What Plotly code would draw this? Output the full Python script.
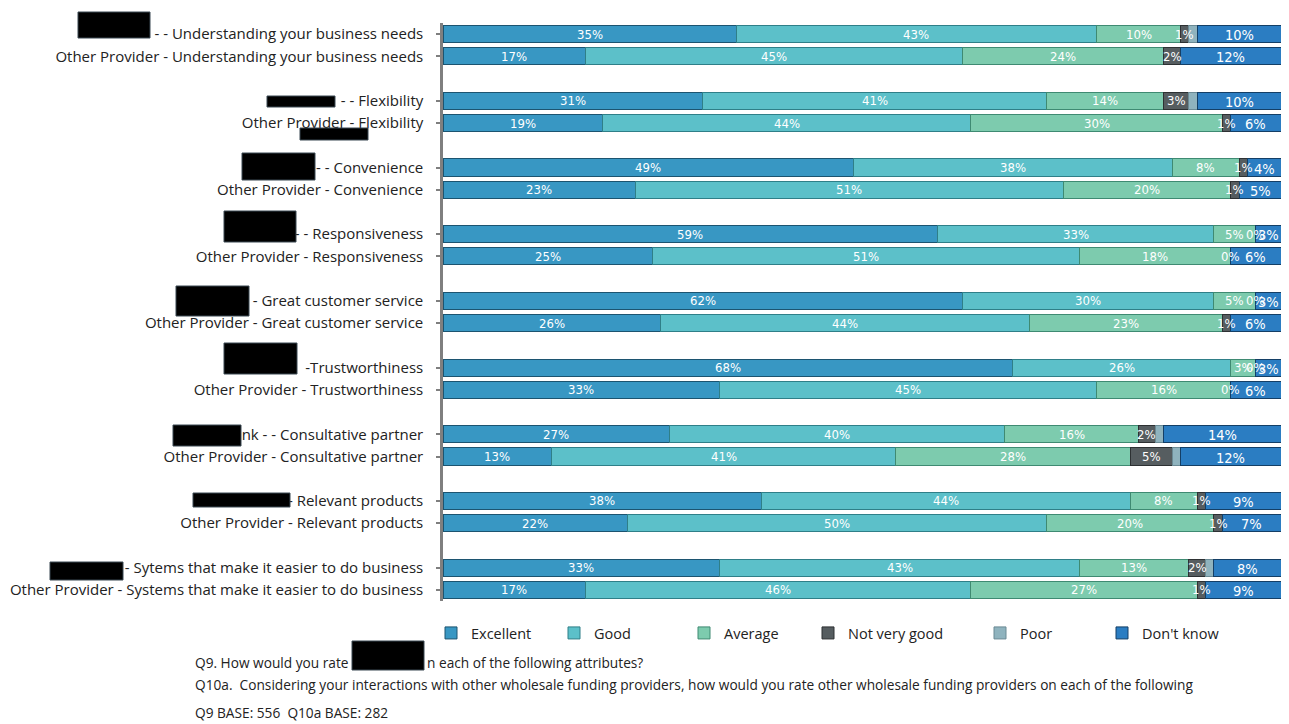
import plotly.graph_objects as go

# ---------------- data ----------------
row_labels = [
    "- - Understanding your business needs",
    "Other Provider - Understanding your business needs",
    "- - Flexibility",
    "Other Provider - Flexibility",
    "- - Convenience",
    "Other Provider - Convenience",
    "- - Responsiveness",
    "Other Provider - Responsiveness",
    "- Great customer service",
    "Other Provider - Great customer service",
    "-Trustworthiness",
    "Other Provider - Trustworthiness",
    "nk - - Consultative partner",
    "Other Provider - Consultative partner",
    "- Relevant products",
    "Other Provider - Relevant products",
    "- Sytems that make it easier to do business",
    "Other Provider - Systems that make it easier to do business",
]

series_names = ["Excellent", "Good", "Average", "Not very good", "Poor", "Don't know"]
excellent     = [35, 17, 31, 19, 49, 23, 59, 25, 62, 26, 68, 33, 27, 13, 38, 22, 33, 17]
good          = [43, 45, 41, 44, 38, 51, 33, 51, 30, 44, 26, 45, 40, 41, 44, 50, 43, 46]
average       = [10, 24, 14, 30, 8, 20, 5, 18, 5, 23, 3, 16, 16, 28, 8, 20, 13, 27]
not_very_good = [1, 2, 3, 1, 1, 1, 0, 0, 0, 1, 0, 0, 2, 5, 1, 1, 2, 1]
poor          = [1, 0, 1, 0, 0, 0, 0, 0, 0, 0, 0, 0, 1, 1, 0, 0, 1, 0]
dont_know     = [10, 12, 10, 6, 4, 5, 3, 6, 3, 6, 3, 6, 14, 12, 9, 7, 8, 9]

footnote_q9_a = "Q9. How would you rate"
footnote_q9_b = "n each of the following attributes?"
footnote_q10 = ("Q10a.  Considering your interactions with other wholesale funding providers, "
                "how would you rate other wholesale funding providers on each of the following")
footnote_base = "Q9 BASE: 556  Q10a BASE: 282"

# ---------------- styling ----------------
series_values = [excellent, good, average, not_very_good, poor, dont_know]
colors = ["#3897c3", "#5cc0c9", "#7dcbae", "#565d60", "#8fb3be", "#2b7dc2"]
edge = ["#1c5470", "#2f7f88", "#3f8a72", "#2d3133", "#6b8a94", "#143f66"]
show_label = [True, True, True, True, False, True]

W, H = 1289, 724
L, R, T, B = 443, 1281, 23, 601

NARROW = "DejaVu Sans Condensed, Liberation Sans, sans-serif"


def px(x):
    return (x - L) / (R - L)


def py(y):
    return 1 - (y - T) / (B - T)


# two rows per attribute, then one empty slot
row_pos = [3 * (i // 2) + (i % 2) for i in range(len(row_labels))]

fig = go.Figure()
legend_centers = [457, 580, 710, 834, 1006, 1128]
for k, (name, vals) in enumerate(zip(series_names, series_values)):
    lg = "legend" if k == 0 else f"legend{k + 1}"
    fig.add_trace(go.Bar(
        name=name, x=vals, y=row_pos, orientation="h", width=0.77,
        marker=dict(color=colors[k], line=dict(color=edge[k], width=1)),
        legend=lg, hoverinfo="x+name",
    ))

# value labels
annotations = []
cum = [0] * len(row_labels)
for k, vals in enumerate(series_values):
    for i, v in enumerate(vals):
        if show_label[k]:
            dk = (k == 5)
            annotations.append(dict(
                x=cum[i] + v / 2, y=row_pos[i], xref="x", yref="y",
                text=f"{v}%", showarrow=False,
                font=dict(family=NARROW, size=14.5 if dk else 13, color="white"),
                yshift=-1 if dk else 0,
            ))
        cum[i] += v

# footnotes
fn_font = dict(family="Open Sans", size=13.7, color="#222222")
annotations += [
    dict(x=px(193), y=py(662), xref="paper", yref="paper", text=footnote_q9_a,
         showarrow=False, xanchor="left", yanchor="middle", font=fn_font),
    dict(x=px(425), y=py(662), xref="paper", yref="paper", text=footnote_q9_b,
         showarrow=False, xanchor="left", yanchor="middle", font=fn_font),
    dict(x=px(193), y=py(684), xref="paper", yref="paper", text=footnote_q10,
         showarrow=False, xanchor="left", yanchor="middle", font=fn_font),
    dict(x=px(193), y=py(712), xref="paper", yref="paper", text=footnote_base,
         showarrow=False, xanchor="left", yanchor="middle", font=fn_font),
]

# redaction boxes (as in the reference image)
boxes = [
    (78, 12, 150, 38), (267, 96, 335, 107), (300, 128, 368, 140),
    (242, 153, 315, 180), (224, 211, 296, 242), (176, 286, 249, 316),
    (224, 343, 297, 374), (173, 425, 241, 446), (193, 493, 290, 507),
    (50, 562, 123, 580), (352, 641, 424, 670),
]
shapes = [dict(type="rect", xref="paper", yref="paper",
               x0=px(a), x1=px(c), y0=py(b), y1=py(d),
               fillcolor="black", line=dict(color="#3b4852", width=1), layer="above")
          for a, b, c, d in boxes]

legend_font = dict(family="Open Sans", size=14.5, color="#222222")
layout_legends = {}
for k in range(6):
    key = "legend" if k == 0 else f"legend{k + 1}"
    layout_legends[key] = dict(
        x=px(legend_centers[k] - 26), y=py(633), xanchor="left", yanchor="middle",
        orientation="h", font=legend_font, bgcolor="rgba(0,0,0,0)",
        itemclick=False, itemdoubleclick=False, itemwidth=30,
    )

fig.update_layout(
    width=W, height=H, barmode="stack",
    margin=dict(l=L, r=W - R, t=T, b=H - B, pad=0),
    paper_bgcolor="white", plot_bgcolor="white",
    showlegend=True,
    annotations=annotations, shapes=shapes,
    **layout_legends,
)
fig.update_xaxes(range=[0, 100], visible=False, fixedrange=True)
fig.update_yaxes(
    range=[25.5, -0.5], tickmode="array", tickvals=row_pos, ticktext=row_labels,
    showline=True, linecolor="#7f7f7f", linewidth=2.5,
    ticks="outside", ticklen=4, tickcolor="#7f7f7f", tickwidth=2,
    ticklabelstandoff=10,
    tickfont=dict(family="Open Sans", size=15, color="#222222"),
    showgrid=False, zeroline=False, fixedrange=True,
)

fig.write_html("out.html")
